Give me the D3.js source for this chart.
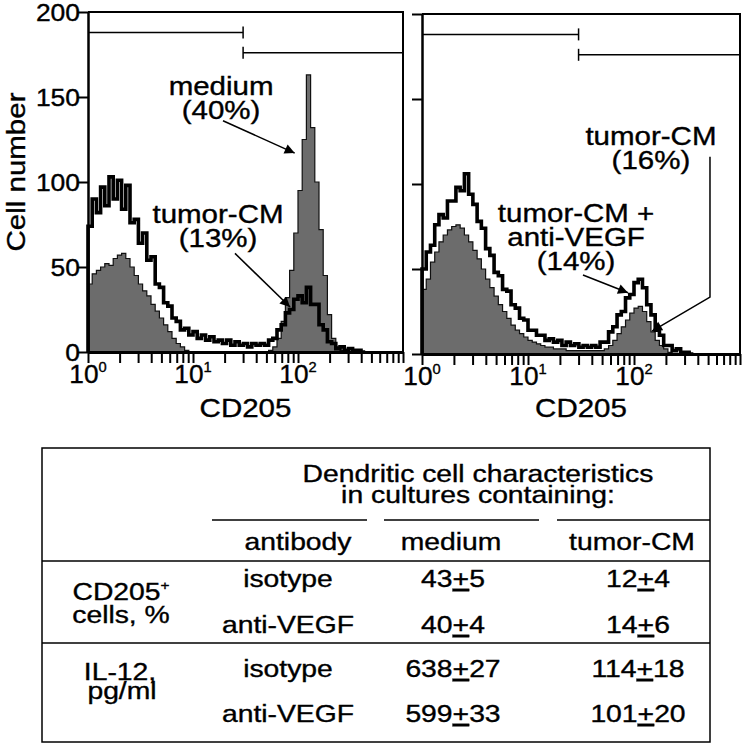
<!DOCTYPE html>
<html>
<head>
<meta charset="utf-8">
<script src="https://cdn.jsdelivr.net/npm/d3@7"></script>
<style>
  html, body { margin: 0; padding: 0; background: #fff; }
  svg { display: block; }
</style>
</head>
<body>
<div id="chart"></div>
<script>
// histogram channels, 0.04 decade wide, starting at 10^0
const binWidth = 0.04;

const leftMedium = [40, 46, 48, 50, 52, 51, 55, 57, 58, 55, 50, 45, 40, 36, 33, 28, 24, 20, 16, 12,
  8, 5, 3, 1, 0, 0, 0, 0, 0, 0, 0, 0, 0, 0, 0, 0, 0, 0, 0, 0,
  0, 0, 0, 1, 3, 8, 18, 32, 48, 70, 95, 125, 163, 132, 100, 72, 45, 22, 8, 3, 1, 0];
const leftTumorCM = [74, 90, 82, 97, 86, 103, 90, 101, 84, 98, 76, 78, 64, 70, 54, 56, 40, 38, 29, 27,
  20, 18, 13, 14, 10, 12, 8, 10, 7, 9, 6, 7, 5, 7, 4, 6, 4, 5, 3, 5,
  4, 5, 4, 7, 8, 13, 16, 23, 25, 31, 33, 29, 38, 28, 28, 16, 13, 6, 5, 2, 3, 1, 2, 1, 1, 0];
const rightTumorCM = [38, 44, 54, 60, 66, 70, 73, 75, 76, 74, 70, 66, 61, 56, 50, 44, 39, 34, 29, 25,
  21, 17, 14, 12, 10, 8, 7, 6, 5, 4, 4, 3, 3, 3, 2, 2, 2, 2, 2, 2,
  2, 2, 2, 3, 5, 8, 12, 16, 20, 24, 27, 28, 25, 19, 13, 8, 5, 3, 1, 0];
const rightAntiVEGF = [50, 60, 64, 76, 82, 80, 90, 90, 98, 96, 106, 94, 88, 78, 74, 62, 58, 48, 46, 38,
  37, 29, 27, 21, 20, 14, 14, 11, 11, 8, 9, 7, 8, 5, 7, 5, 6, 4, 5, 4,
  5, 4, 7, 7, 13, 16, 23, 25, 33, 35, 42, 44, 39, 29, 23, 14, 11, 5, 5, 2, 3, 1, 1, 0];

const yTicks = [0, 50, 100, 150, 200];
const xLabelExp = [0, 1, 2];
const gateStart = [1, 30];
const gateEnd = [30, 1000];
const gateLevel = [188, 176];

// table
const tableHeader = ["Dendritic cell characteristics", "in cultures containing:"];
const tableCols = ["antibody", "medium", "tumor-CM"];
const antibodies = ["isotype", "anti-VEGF", "isotype", "anti-VEGF"];
const mediumMean = [43, 40, 638, 599];
const mediumErr = [5, 4, 27, 33];
const tumorMean = [12, 14, 114, 101];
const tumorErr = [4, 6, 18, 20];

const FONT = "'Liberation Sans', Arial, Helvetica, sans-serif";
const GRAY = "#6c6c6c";

const svg = d3.select("#chart").append("svg")
  .attr("width", 742)
  .attr("height", 743);

svg.append("defs").append("marker")
  .attr("id", "arrow")
  .attr("viewBox", "0 0 10 10")
  .attr("refX", 10)
  .attr("refY", 5)
  .attr("markerUnits", "userSpaceOnUse")
  .attr("markerWidth", 15)
  .attr("markerHeight", 10)
  .attr("orient", "auto")
  .append("path")
  .attr("d", "M0,0L10,5L0,10z")
  .attr("fill", "#000");

// text with the wide, heavy look of the original lettering
function label(sel, str, x, y, size, opt = {}) {
  const sx = opt.sx || 1.18;
  return sel.append("text")
    .attr("transform", `translate(${x},${y}) rotate(${opt.rotate || 0}) scale(${sx},1)`)
    .attr("text-anchor", opt.anchor || "middle")
    .style("font-family", FONT)
    .style("font-size", size + "px")
    .attr("fill", "#000")
    .attr("stroke", "#000")
    .attr("stroke-width", 0.35)
    .text(str);
}

function steps(values) {
  const pts = [[1, 0]];
  values.forEach((v, i) => pts.push([Math.pow(10, i * binWidth), v]));
  pts.push([Math.pow(10, values.length * binWidth), 0]);
  return pts;
}

const panels = [
  {
    left: 88, right: 403, top: 12, bottom: 352, fill: leftMedium, line: leftTumorCM, yLabels: true,
    notes: [
      { lines: ["medium", "(40%)"], at: [18.5, 151], arrow: [[19.3, 136], [93, 117]] },
      { lines: ["tumor-CM", "(13%)"], at: [17.3, 76], arrow: [[25.1, 58], [84, 26.5]] }
    ]
  },
  {
    left: 422, right: 740, top: 14, bottom: 354, fill: rightTumorCM, line: rightAntiVEGF, yLabels: false,
    notes: [
      { lines: ["tumor-CM", "(16%)"], at: [144.5, 123], arrow: [[521, 116], [521, 33.5], [148, 13.5]] },
      { lines: ["tumor-CM +", "anti-VEGF", "(14%)"], at: [28.4, 77.6], arrow: [[33, 46.5], [87.8, 36]] }
    ]
  }
];

panels.forEach((p) => {
  const x = d3.scaleLog().domain([1, 1000]).range([p.left, p.right]);
  const y = d3.scaleLinear().domain([0, 200]).range([p.bottom, p.top]);
  const g = svg.append("g");

  const area = d3.area()
    .curve(d3.curveStepAfter)
    .x((d) => x(d[0]))
    .y0(y(0))
    .y1((d) => y(d[1]));
  const line = d3.line()
    .curve(d3.curveStepAfter)
    .x((d) => x(d[0]))
    .y((d) => y(d[1]));

  g.append("path")
    .datum(steps(p.fill))
    .attr("d", area)
    .attr("fill", GRAY)
    .attr("stroke", "#111")
    .attr("stroke-width", 1.2);

  g.append("path")
    .datum(steps(p.line))
    .attr("d", line)
    .attr("fill", "none")
    .attr("stroke", "#000")
    .attr("stroke-width", 3.6)
    .attr("stroke-linejoin", "miter");

  // frame top and right
  g.append("path")
    .attr("d", `M${x(1)},${y(200)}H${x(1000)}V${y(0)}`)
    .attr("fill", "none")
    .attr("stroke", "#000")
    .attr("stroke-width", 2);

  // gates
  gateStart.forEach((s, i) => {
    g.append("line")
      .attr("x1", x(s)).attr("x2", x(gateEnd[i]))
      .attr("y1", y(gateLevel[i])).attr("y2", y(gateLevel[i]))
      .attr("stroke", "#000").attr("stroke-width", 1.5);
    g.append("line")
      .attr("x1", x(30)).attr("x2", x(30))
      .attr("y1", y(gateLevel[i]) - 6).attr("y2", y(gateLevel[i]) + 6)
      .attr("stroke", "#000").attr("stroke-width", 1.5);
  });

  // axes
  const xAxis = g.append("g")
    .attr("transform", `translate(0,${p.bottom})`)
    .call(d3.axisBottom(x).tickValues(x.ticks()).tickSize(11).tickSizeOuter(0).tickFormat(""));
  xAxis.select(".domain").attr("stroke-width", 3);
  xAxis.selectAll(".tick line").attr("stroke-width", 2);

  const yAxis = g.append("g")
    .attr("transform", `translate(${p.left},0)`)
    .call(d3.axisLeft(y).tickValues(yTicks).tickSize(10).tickSizeOuter(0).tickFormat(""));
  yAxis.select(".domain").attr("stroke-width", 2.5);
  yAxis.selectAll(".tick line").attr("stroke-width", 2);

  xLabelExp.forEach((e) => {
    const t = label(g, "", x(Math.pow(10, e)), p.bottom + 31, 25, { sx: 1.05 });
    t.append("tspan").text("10");
    t.append("tspan").attr("dy", -11).style("font-size", "14px").text(e);
  });

  if (p.yLabels) {
    yTicks.forEach((v) => {
      label(g, v, p.left - 8, y(v) + 8.5, 23, { anchor: "end", sx: 1.15 });
    });
  }

  label(g, "CD205", (p.left + p.right) / 2, 417, 25);

  // annotations
  p.notes.forEach((n) => {
    n.lines.forEach((s, i) => {
      label(g, s, x(n.at[0]), y(n.at[1]) + i * 24, 25);
    });
    g.append("path")
      .attr("d", d3.line().x((d) => x(d[0])).y((d) => y(d[1]))(n.arrow))
      .attr("fill", "none")
      .attr("stroke", "#000")
      .attr("stroke-width", 1.5)
      .attr("marker-end", "url(#arrow)");
  });
});

label(svg, "Cell number", 25, 172, 25, { rotate: -90 });

// ---- table ----
const tbl = svg.append("g");
const tLeft = 42, tRight = 710, tTop = 448, tBottom = 742;
const sepY = [561, 643];
const colX = [288, 453, 638];
const headX = [298, 451, 632];
const rowY = [587, 633, 677, 722];
const underline = [[212, 367], [384, 539], [557, 710]];

tbl.append("rect")
  .attr("x", tLeft).attr("y", tTop)
  .attr("width", tRight - tLeft).attr("height", tBottom - tTop)
  .attr("fill", "none").attr("stroke", "#000").attr("stroke-width", 1.5);

sepY.forEach((sy) => {
  tbl.append("line")
    .attr("x1", tLeft).attr("x2", tRight).attr("y1", sy).attr("y2", sy)
    .attr("stroke", "#000").attr("stroke-width", 1.5);
});
underline.forEach((u) => {
  tbl.append("line")
    .attr("x1", u[0]).attr("x2", u[1]).attr("y1", 520).attr("y2", 520)
    .attr("stroke", "#000").attr("stroke-width", 1.3);
});

tableHeader.forEach((s, i) => label(tbl, s, 478, 482 + i * 21, 24));
tableCols.forEach((s, i) => label(tbl, s, headX[i], 550, 24));

function pm(sel, x, yy, mean, err) {
  const t = label(sel, "", x, yy, 24);
  t.append("tspan").text(mean);
  t.append("tspan").style("text-decoration", "underline").text("+");
  t.append("tspan").text(err);
}

antibodies.forEach((a, i) => {
  label(tbl, a, colX[0], rowY[i], 24);
  pm(tbl, colX[1], rowY[i], mediumMean[i], mediumErr[i]);
  pm(tbl, colX[2], rowY[i], tumorMean[i], tumorErr[i]);
});

const cd = label(tbl, "", 121, 600, 24);
cd.append("tspan").text("CD205");
cd.append("tspan").attr("dy", -10).style("font-size", "13px").text("+");
label(tbl, "cells, %", 121, 623, 24);
label(tbl, "IL-12,", 120, 680, 24);
label(tbl, "pg/ml", 122, 699, 24);
</script>
</body>
</html>
